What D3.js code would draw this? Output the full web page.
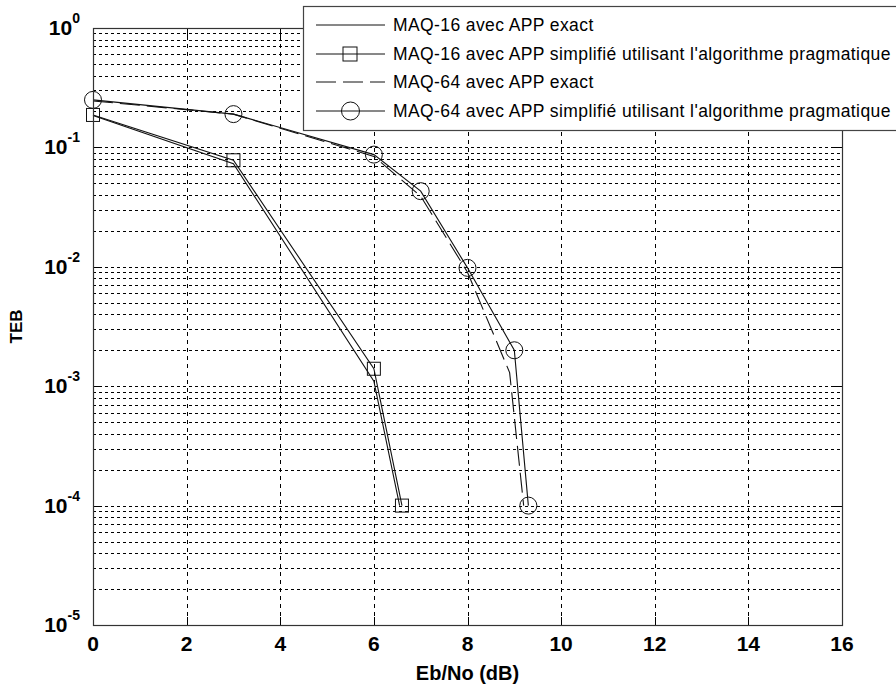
<!DOCTYPE html>
<html>
<head>
<meta charset="utf-8">
<script src="https://cdn.jsdelivr.net/npm/d3@7"></script>
<style>
body{margin:0;background:#fff;}
svg{display:block;font-family:"Liberation Sans",Arial,sans-serif;}
</style>
</head>
<body>
<script>
// data
const ebno16Exact=[0,3,6,6.55];
const teb16Exact=[0.185,0.073,0.0011,1e-4];
const ebno16Simpl=[0,3,6,6.6];
const teb16Simpl=[0.187,0.078,0.0014,1e-4];
const ebno64Exact=[0,3,6,7,8,8.9,9.2];
const teb64Exact=[0.245,0.19,0.084,0.039,0.009,0.0013,1e-4];
const ebno64Simpl=[0,3,6,7,8,9,9.3];
const teb64Simpl=[0.25,0.19,0.087,0.043,0.0098,0.002,1e-4];
const xTicks=[0,2,4,6,8,10,12,14,16];
const yDecades=[0,-1,-2,-3,-4,-5];
const legendLabels=[
 "MAQ-16 avec APP exact",
 "MAQ-16 avec APP simplifié utilisant l'algorithme pragmatique",
 "MAQ-64 avec APP exact",
 "MAQ-64 avec APP simplifié utilisant l'algorithme pragmatique"];

const W=896,H=687;
const pL=93,pR=842,pT=28,pB=625;
const svg=d3.select("body").append("svg").attr("width",W).attr("height",H);

const x=d3.scaleLinear().domain([0,16]).range([pL,pR]);
const y=d3.scaleLog().domain([1e-5,1]).range([pB,pT]);

// grid
const minor=[];
yDecades.slice(1).forEach(e=>{for(let k=1;k<10;k++)minor.push(k*Math.pow(10,e));});
const grid=svg.append("g");
grid.selectAll("line.h").data(minor.filter(v=>v<1&&v>1e-5)).join("line")
 .attr("x1",pL).attr("x2",pR).attr("y1",d=>Math.round(y(d))+0.5).attr("y2",d=>Math.round(y(d))+0.5)
 .attr("stroke","#000").attr("stroke-dasharray","3,3").attr("stroke-width",1);
grid.selectAll("line.v").data(xTicks.slice(1,-1)).join("line")
 .attr("y1",pT).attr("y2",pB).attr("x1",d=>Math.round(x(d))+0.5).attr("x2",d=>Math.round(x(d))+0.5)
 .attr("stroke","#000").attr("stroke-dasharray","4,4").attr("stroke-width",1);

// ticks (inside, both sides)
const ticks=svg.append("g").attr("stroke","#000");
yDecades.forEach(e=>{
 const yy=Math.round(y(Math.pow(10,e)))+0.5;
 ticks.append("line").attr("x1",pL).attr("x2",pL+8).attr("y1",yy).attr("y2",yy);
 ticks.append("line").attr("x1",pR-8).attr("x2",pR).attr("y1",yy).attr("y2",yy);
});
xTicks.forEach(v=>{
 const xx=Math.round(x(v))+0.5;
 ticks.append("line").attr("x1",xx).attr("x2",xx).attr("y1",pB).attr("y2",pB-8);
 ticks.append("line").attr("x1",xx).attr("x2",xx).attr("y1",pT).attr("y2",pT+8);
});

// curves
const line=d3.line().x(d=>x(d[0])).y(d=>y(d[1]));
const curves=[
 {xs:ebno16Exact,ys:teb16Exact,dash:null},
 {xs:ebno16Simpl,ys:teb16Simpl,dash:null,marker:"square"},
 {xs:ebno64Exact,ys:teb64Exact,dash:"20,7"},
 {xs:ebno64Simpl,ys:teb64Simpl,dash:null,marker:"circle"}];
curves.forEach(c=>{
 const pts=d3.zip(c.xs,c.ys);
 svg.append("path").attr("d",line(pts)).attr("fill","none").attr("stroke","#111")
  .attr("stroke-width",1.1).attr("stroke-dasharray",c.dash);
 if(c.marker==="square"){
  svg.selectAll(null).data(pts).join("rect")
   .attr("x",d=>x(d[0])-6.5).attr("y",d=>y(d[1])-6.5).attr("width",13).attr("height",13)
   .attr("fill","none").attr("stroke","#111");
 }else if(c.marker==="circle"){
  svg.selectAll(null).data(pts).join("circle")
   .attr("cx",d=>x(d[0])).attr("cy",d=>y(d[1])).attr("r",8.5)
   .attr("fill","none").attr("stroke","#111");
 }
});

// frame
svg.append("rect").attr("x",pL+0.5).attr("y",pT+0.5).attr("width",pR-pL).attr("height",pB-pT)
 .attr("fill","none").attr("stroke","#333").attr("stroke-width",1.2);

// y tick labels 10^e
yDecades.forEach(e=>{
 const t=svg.append("text").attr("x",80).attr("y",y(Math.pow(10,e))+7)
  .attr("text-anchor","end").attr("font-weight","bold").attr("font-size",21);
 t.append("tspan").text("10");
 t.append("tspan").attr("dy",-12).attr("font-size",14).text(e);
});
// x tick labels
svg.selectAll("text.xt").data(xTicks).join("text")
 .attr("x",d=>x(d)).attr("y",651).attr("text-anchor","middle")
 .attr("font-weight","bold").attr("font-size",21).text(d=>d);

svg.append("text").attr("x",(pL+pR)/2).attr("y",680).attr("text-anchor","middle")
 .attr("font-weight","bold").attr("font-size",20).text("Eb/No (dB)");
svg.append("text").attr("transform",`translate(22,${(pT+pB)/2}) rotate(-90)`)
 .attr("text-anchor","middle").attr("font-weight","bold").attr("font-size",17).text("TEB");

// legend
const lg=svg.append("g");
lg.append("rect").attr("x",303.5).attr("y",6.5).attr("width",620).attr("height",124)
 .attr("fill","#fff").attr("stroke","#444").attr("stroke-width",1.2);
const rowY=[25,54,82,111];
legendLabels.forEach((lab,i)=>{
 const c=curves[i],yy=rowY[i];
 lg.append("line").attr("x1",316).attr("x2",385).attr("y1",yy).attr("y2",yy)
  .attr("stroke","#111").attr("stroke-dasharray",c.dash);
 if(c.marker==="square")
  lg.append("rect").attr("x",343).attr("y",yy-7).attr("width",14).attr("height",14).attr("fill","none").attr("stroke","#111");
 if(c.marker==="circle")
  lg.append("circle").attr("cx",350.5).attr("cy",yy).attr("r",9).attr("fill","none").attr("stroke","#111");
 lg.append("text").attr("x",393).attr("y",yy+6).attr("font-size",17.5).attr("letter-spacing",0.4).text(lab);
});
</script>
</body>
</html>
